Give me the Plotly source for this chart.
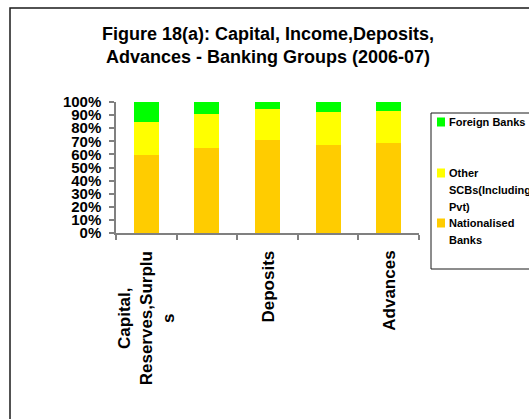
import plotly.graph_objects as go

# Share of each banking group (percent), 2006-07
categories = ["Capital, Reserves,Surplus", "Income", "Deposits", "Investments", "Advances"]
axis_labels = ["Capital,<br>Reserves,Surplu<br>s", "", "Deposits", "", "Advances"]
nationalised = [59.5, 65.0, 71.0, 67.2, 68.7]
other_scbs = [25.2, 25.8, 23.7, 25.2, 24.4]
foreign = [15.3, 9.2, 5.3, 7.6, 6.9]

series_names = ["Nationalised<br>Banks", "Other<br>SCBs(Including<br>Pvt)", "Foreign Banks"]
series_values = [nationalised, other_scbs, foreign]
series_colors = ["#FFCC00", "#FFFF00", "#00FF00"]
y_ticks = list(range(0, 101, 10))
y_tick_text = [f"{v}%" for v in y_ticks]

W, H = 529, 419
L, R, T, B = 116, 419, 102, 233  # plot area in pixels

def px(xp):
    return (xp - L) / (R - L)

def py(yp):
    return (B - yp) / (B - T)

FONT = "Liberation Sans, Arial, sans-serif"

fig = go.Figure()
for name, vals, col in zip(series_names, series_values, series_colors):
    fig.add_trace(go.Bar(x=categories, y=vals, name=name.replace("<br>", " "),
                         marker=dict(color=col, line=dict(width=0)),
                         showlegend=False, hoverinfo="skip"))

fig.update_layout(
    width=W, height=H,
    margin=dict(l=L, r=W - R, t=T, b=H - B, pad=0),
    barmode="stack", bargap=0.59,
    paper_bgcolor="white", plot_bgcolor="white",
    font=dict(family=FONT, color="black"),
    title=dict(text="Figure 18(a): Capital, Income,Deposits,<br>Advances - Banking Groups (2006-07)",
               x=268 / W, xanchor="center", y=1 - 40 / H, yanchor="middle",
               font=dict(family=FONT, size=18, weight="bold", color="black")),
)

fig.update_xaxes(type="category", range=[-0.5, 4.5], tickson="boundaries",
                 ticks="outside", ticklen=5, tickcolor="#808080", tickwidth=1.5,
                 showline=True, linecolor="#808080", linewidth=1.5,
                 showgrid=False, showticklabels=False, zeroline=False)
fig.update_yaxes(range=[0, 100], tickmode="array", tickvals=y_ticks, ticktext=y_tick_text,
                 ticks="outside", ticklen=5, tickcolor="#808080", tickwidth=1.5,
                 showline=True, linecolor="#808080", linewidth=1.5,
                 showgrid=False, zeroline=False, ticklabelstandoff=5,
                 tickfont=dict(family=FONT, size=15, weight="bold", color="black"))

# Category labels, rotated and centred line by line
for cat, lab in zip(categories, axis_labels):
    if lab:
        fig.add_annotation(x=cat, xref="x", y=py(249), yref="paper",
                           text=lab, textangle=-90, align="center",
                           xanchor="center", yanchor="top", showarrow=False,
                           font=dict(family=FONT, size=17, weight="bold", color="black"))

# Outer chart frame
fig.add_shape(type="rect", xref="paper", yref="paper",
              x0=px(10), y0=py(8), x1=px(600), y1=py(500),
              line=dict(color="#1a1a1a", width=1.5), fillcolor="rgba(0,0,0,0)", layer="above")

# Legend box with swatches and wrapped labels
fig.add_shape(type="rect", xref="paper", yref="paper",
              x0=px(431), y0=py(113), x1=px(600), y1=py(269),
              line=dict(color="#1a1a1a", width=1), fillcolor="white", layer="above")
legend_rows = [
    (2, 122, ["Foreign Banks"]),
    (1, 173, ["Other", "SCBs(Including", "Pvt)"]),
    (0, 223, ["Nationalised", "Banks"]),
]
for idx, top, lines in legend_rows:
    fig.add_shape(type="rect", xref="paper", yref="paper",
                  x0=px(437), x1=px(445), y0=py(top - 4.5), y1=py(top + 4.5),
                  line=dict(width=0), fillcolor=series_colors[idx], layer="above")
    for k, line in enumerate(lines):
        fig.add_annotation(x=px(447), xref="paper", y=py(top + 17 * k), yref="paper",
                           text=line, xanchor="left", yanchor="middle", showarrow=False,
                           font=dict(family=FONT, size=11, weight="bold", color="black"))

fig.write_html("out.html")
